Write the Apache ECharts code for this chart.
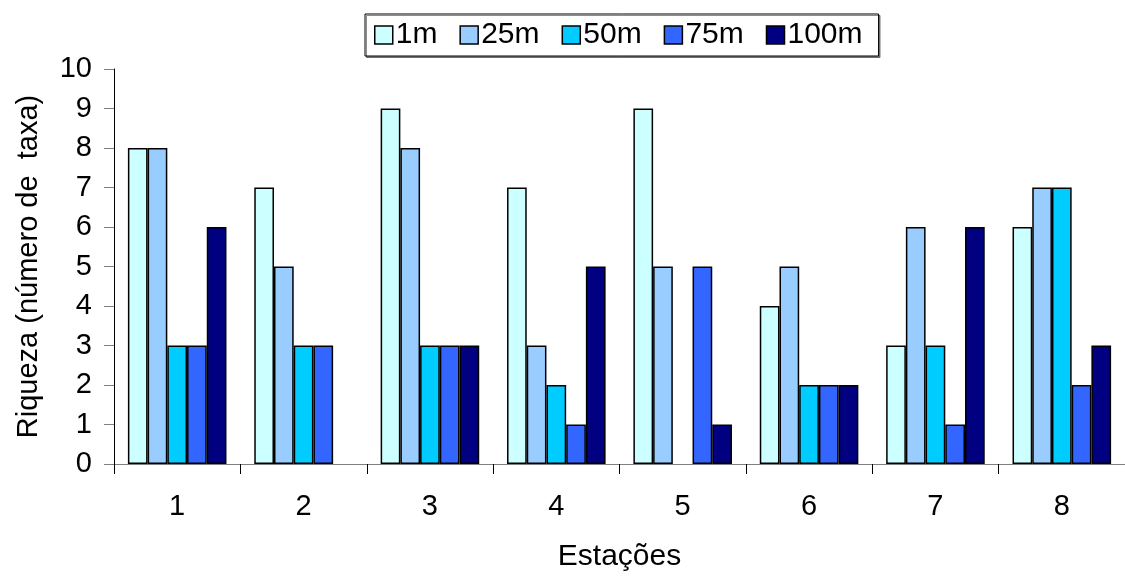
<!DOCTYPE html>
<html>
<head>
<meta charset="utf-8">
<script src="https://cdn.jsdelivr.net/npm/echarts@6/dist/echarts.min.js"></script>
<style>
  html, body { margin: 0; padding: 0; background: #fff; }
  #chart { width: 1125px; height: 577px; }
</style>
</head>
<body>
<div id="chart"></div>
<script>
// Stations along the x axis
const stations = ['1', '2', '3', '4', '5', '6', '7', '8'];

// Richness (number of taxa) at each depth, one value per station
const depth1m   = [8, 7, 9, 7, 9, 4, 3, 6];
const depth25m  = [8, 5, 8, 3, 5, 5, 6, 7];
const depth50m  = [3, 3, 3, 2, 0, 2, 3, 7];
const depth75m  = [3, 3, 3, 1, 5, 2, 1, 2];
const depth100m = [6, 0, 3, 5, 1, 2, 6, 3];

const depthNames = ['1m', '25m', '50m', '75m', '100m'];
const depthValues = [depth1m, depth25m, depth50m, depth75m, depth100m];
const depthColors = ['#CCFFFF', '#99CCFF', '#00CCFF', '#3366FF', '#000080'];

const FONT = '"Liberation Sans", Arial, sans-serif';

const chart = echarts.init(document.getElementById('chart'), null, { renderer: 'canvas' });

const series = depthNames.map((name, i) => ({
  name: name,
  type: 'bar',
  barGap: '0%',
  barCategoryGap: '22%',
  // zero richness is left empty, as no bar is drawn for it
  data: depthValues[i].map(v => (v === 0 ? null : v)),
  itemStyle: { color: depthColors[i], borderColor: '#000', borderWidth: 1.5 },
  emphasis: { disabled: true }
}));

chart.setOption({
  animation: false,
  backgroundColor: '#fff',
  textStyle: { fontFamily: FONT },
  legend: {
    data: depthNames,
    left: 365,
    top: 14,
    padding: [6, 16, 6, 9],
    itemWidth: 18,
    itemHeight: 18,
    itemGap: 22,
    icon: 'rect',
    borderColor: '#000',
    borderWidth: 1,
    shadowColor: 'rgba(0,0,0,0.45)',
    shadowOffsetX: 1.5,
    shadowOffsetY: 1.5,
    backgroundColor: '#fff',
    itemStyle: { borderColor: '#000', borderWidth: 1.5 },
    textStyle: { fontSize: 30, color: '#000', fontFamily: FONT, padding: [0, 0, 0, -2] }
  },
  grid: { left: 114, top: 69, width: 1022, height: 398, containLabel: false },
  xAxis: {
    type: 'category',
    data: stations,
    name: 'Estações',
    nameLocation: 'middle',
    nameGap: 78,
    nameTextStyle: { fontSize: 30, color: '#000', fontFamily: FONT },
    axisLine: { lineStyle: { color: '#808080', width: 1 } },
    axisTick: { show: true, length: 10, lineStyle: { color: '#000' } },
    axisLabel: { fontSize: 29, color: '#000', margin: 28, fontFamily: FONT },
    splitLine: { show: false }
  },
  yAxis: {
    type: 'value',
    min: 0,
    max: 10,
    interval: 1,
    name: 'Riqueza (número de  taxa)',
    nameLocation: 'middle',
    nameGap: 71,
    nameTextStyle: { fontSize: 29, color: '#000', fontFamily: FONT },
    axisLine: { show: true, lineStyle: { color: '#000', width: 1 } },
    axisTick: { show: true, length: 10, lineStyle: { color: '#808080' } },
    axisLabel: { fontSize: 29, color: '#000', margin: 22, fontFamily: FONT },
    splitLine: { show: false }
  },
  series: series
});
</script>
</body>
</html>
